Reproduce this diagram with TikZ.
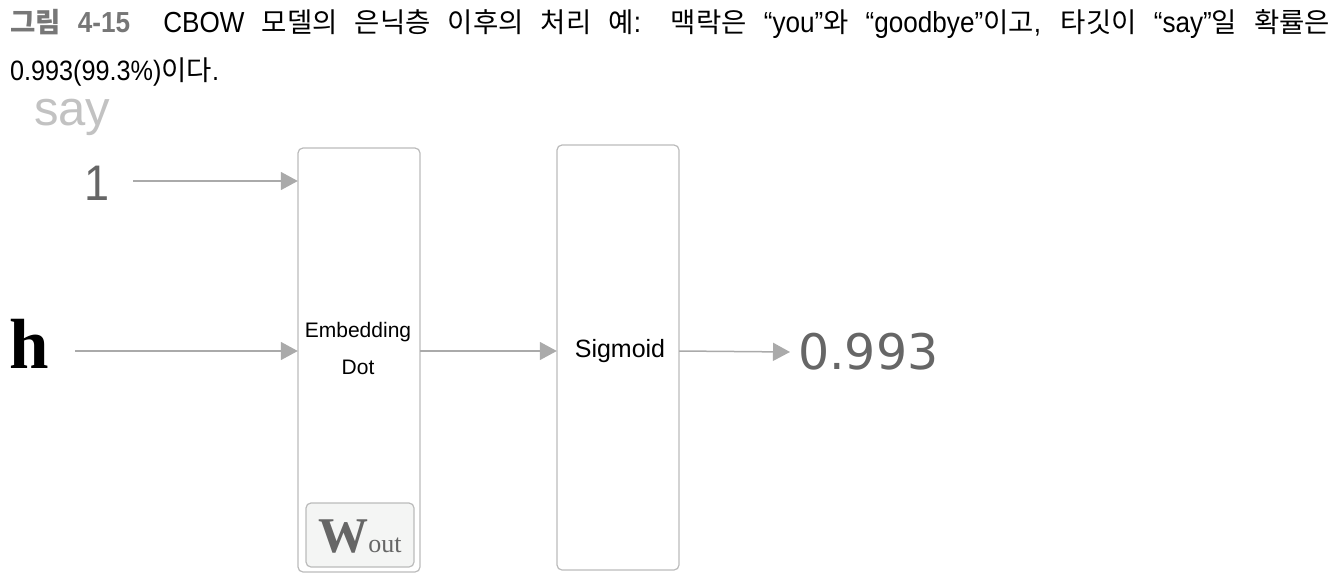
\documentclass[tikz,border=0pt]{standalone}
\usepackage{fontspec}
\setmainfont{Liberation Sans}
\newfontfamily\kr{Noto Sans CJK KR}
\newfontfamily\lcond[FakeStretch=0.9]{Liberation Sans}
\newfontfamily\dvs{DejaVu Sans}
\newfontfamily\lserif{Liberation Serif}
\usetikzlibrary{arrows.meta}
\definecolor{linegray}{HTML}{BBBBBB}
\definecolor{saygray}{HTML}{C2C2C2}
\definecolor{arrgray}{HTML}{AAAAAA}
\definecolor{txtgray}{HTML}{666666}
\definecolor{capgray}{HTML}{777777}
\definecolor{fillgray}{HTML}{F4F5F4}
\newcommand{\K}[1]{{\kr\fontsize{27.5pt}{30pt}\selectfont #1}}
\begin{document}
\begin{tikzpicture}[x=1pt,y=-1pt,
  layerbox/.style={draw=linegray,line width=1.2pt,rounded corners=5pt},
  conn/.style={draw=arrgray,line width=1.5pt,-{Triangle[length=17pt,width=18pt]}},
  lbl/.style={inner sep=0pt,anchor=center}]
\useasboundingbox (0,0) rectangle (1338,586);
% caption
\node[inner sep=0pt,anchor=base west] (cap1) at (10,33)
  {\lcond\fontsize{29pt}{30pt}\selectfont\makebox[1320pt][s]{{\color{capgray}\bfseries\K{\bfseries 그림} 4-15}\hspace{16pt} CBOW \K{모델의} \K{은닉층} \K{이후의} \K{처리} \K{예}: \K{맥락은} “you”\K{와} “goodbye”\K{이고}, \K{타깃이} “say”\K{일} \K{확률은}}};
\node[inner sep=0pt,anchor=base west] (cap2) at (10,81)
  {\lcond\fontsize{28pt}{30pt}\selectfont 0.993(99.3\%)\K{이다}.};
% boxes
\draw[layerbox] (298,148) rectangle (420,572);
\node[inner sep=0pt] (b1) at (359,360) [minimum width=122pt,minimum height=424pt] {};
\draw[layerbox] (557,145) rectangle (679,570);
\node[inner sep=0pt] (b2) at (618,357.5) [minimum width=122pt,minimum height=425pt] {};
\draw[layerbox,fill=fillgray] (306,503) rectangle (414,567);
\node[lbl,text=txtgray] (w) at (360,537) {\fontsize{50pt}{50pt}\selectfont\lserif\bfseries W\fontsize{26pt}{26pt}\selectfont\mdseries out};
% labels
\node[inner sep=0pt,anchor=base west,text=saygray] (say) at (34,125) {\fontsize{49pt}{49pt}\selectfont say};
\node[lbl,text=txtgray] (one) at (97,183) {\fontsize{50pt}{50pt}\selectfont\lcond 1};
\node[inner sep=0pt,anchor=base west] (h) at (9,368) {\fontsize{71pt}{71pt}\selectfont\lserif\bfseries h};
\node[lbl] (emb) at (358,332) {\fontsize{21pt}{21pt}\selectfont Embedding};
\node[lbl] (dot) at (358,367) {\fontsize{21pt}{21pt}\selectfont Dot};
\node[lbl] (sig) at (620,351) {\fontsize{25pt}{25pt}\selectfont Sigmoid};
\node[lbl,text=txtgray,anchor=west] (out) at (798,352) {\fontsize{49pt}{49pt}\selectfont\dvs 0.993};
% connectors
\coordinate (a1s) at (133,181);
\coordinate (a2s) at (75,351);
\draw[conn] (a1s) -- (b1.west |- a1s);
\draw[conn] (a2s) -- (b1.west |- a2s);
\draw[conn] (b1.east |- a2s) -- (b2.west |- a2s);
\draw[conn] (b2.east |- a2s) -- ([xshift=-8pt]out.west);
\end{tikzpicture}
\end{document}
